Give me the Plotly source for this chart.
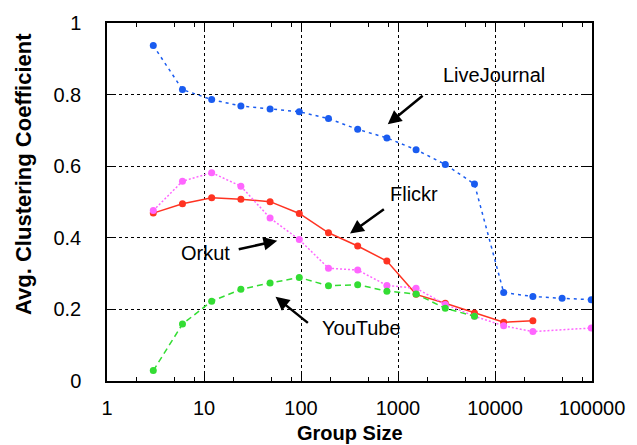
import plotly.graph_objects as go
import math

# Group sizes (doubling from 3)
sizes = [3, 6, 12, 24, 48, 96, 192, 384, 768, 1536, 3072, 6144, 12288, 24576, 49152, 98304]

livejournal = [0.937, 0.814, 0.786, 0.768, 0.760, 0.752, 0.733, 0.703, 0.679, 0.646,
               0.605, 0.550, 0.247, 0.236, 0.231, 0.227]
flickr_x = sizes[:14]
flickr = [0.469, 0.495, 0.512, 0.508, 0.501, 0.468, 0.414, 0.377, 0.335, 0.242,
          0.217, 0.190, 0.164, 0.168]
orkut_x = sizes[:14] + [98304]
orkut = [0.476, 0.558, 0.582, 0.544, 0.455, 0.395, 0.315, 0.310, 0.267, 0.259,
         0.214, 0.181, 0.154, 0.138, 0.148]
youtube_x = sizes[:12]
youtube = [0.029, 0.159, 0.223, 0.256, 0.274, 0.289, 0.266, 0.269, 0.251, 0.243,
           0.203, 0.181]

x_ticks = [1, 10, 100, 1000, 10000, 100000]
x_tick_labels = ["1", "10", "100", "1000", "10000", "100000"]
y_ticks = [0, 0.2, 0.4, 0.6, 0.8, 1]
y_tick_labels = ["0", "0.2", "0.4", "0.6", "0.8", "1"]
minor_x = [m * 10 ** d for d in range(5) for m in (2, 5, 8)]

FONT = "Liberation Sans, Arial, Helvetica, sans-serif"
FS = 20
BLUE = "#1a5cf0"
RED = "#ff3322"
MAGENTA = "#ff66ff"
GREEN = "#33dd33"

fig = go.Figure()
fig.add_trace(go.Scatter(x=sizes, y=livejournal, mode="lines+markers", name="LiveJournal",
                         line=dict(color=BLUE, width=1.5, dash="3px,4px"),
                         marker=dict(color=BLUE, size=7)))
fig.add_trace(go.Scatter(x=flickr_x, y=flickr, mode="lines+markers", name="Flickr",
                         line=dict(color=RED, width=1.5),
                         marker=dict(color=RED, size=7)))
fig.add_trace(go.Scatter(x=orkut_x, y=orkut, mode="lines+markers", name="Orkut",
                         line=dict(color=MAGENTA, width=1.5, dash="2px,2px"),
                         marker=dict(color=MAGENTA, size=7)))
fig.add_trace(go.Scatter(x=youtube_x, y=youtube, mode="lines+markers", name="YouTube",
                         line=dict(color=GREEN, width=1.5, dash="6px,4px"),
                         marker=dict(color=GREEN, size=7)))

# Labels with arrows: (text, text_x, text_y, tail_x, tail_y, head_x, head_y)
labels = [
    ("LiveJournal", 9800, 0.854, 1860, 0.800, 784, 0.717),
    ("Flickr", 1460, 0.522, 741, 0.483, 320, 0.412),
    ("Orkut", 10.3, 0.358, 22, 0.367, 56.9, 0.392),
    ("YouTube", 424, 0.147, 122, 0.159, 54.6, 0.235),
]
for text, tx, ty, ax_, ay_, hx, hy in labels:
    fig.add_annotation(x=math.log10(tx), y=ty, text=text, showarrow=False,
                       font=dict(family=FONT, size=FS, color="black"))
    fig.add_annotation(x=math.log10(hx), y=hy, ax=math.log10(ax_), ay=ay_,
                       axref="x", ayref="y", xref="x", yref="y", text="",
                       showarrow=True, arrowhead=2, arrowsize=1.1, arrowwidth=2.5,
                       arrowcolor="black")

fig.add_annotation(text="<b>Avg. Clustering Coefficient</b>", textangle=-90,
                   xref="paper", yref="paper", x=-0.172, y=0.577,
                   xanchor="center", yanchor="middle",
                   showarrow=False, font=dict(family=FONT, size=22, color="black"))
fig.add_annotation(text="<b>Group Size</b>", xref="paper", yref="paper",
                   x=0.5, y=-0.145, xanchor="center", yanchor="middle", showarrow=False,
                   font=dict(family=FONT, size=20, color="black"))

axis_common = dict(showline=True, linecolor="black", linewidth=1.5, mirror="allticks",
                   ticks="inside", tickcolor="black", tickwidth=1, ticklen=8,
                   showgrid=True, gridcolor="black", griddash="dot", gridwidth=1,
                   zeroline=False, tickfont=dict(family=FONT, size=FS, color="black"))

fig.update_xaxes(type="log", range=[0, 5], tickvals=x_ticks, ticktext=x_tick_labels,
                 ticklabelstandoff=8,
                 minor=dict(tickvals=minor_x, ticks="inside", ticklen=4,
                            tickcolor="black", showgrid=False),
                 **axis_common)
fig.update_yaxes(range=[0, 1], tickvals=y_ticks, ticktext=y_tick_labels,
                 ticklabelstandoff=20, **axis_common)

fig.update_layout(width=637, height=445, showlegend=False,
                  margin=dict(l=107, r=37, t=22, b=64),
                  plot_bgcolor="white", paper_bgcolor="white",
                  font=dict(family=FONT, size=FS, color="black"))

fig.write_html("out.html")
